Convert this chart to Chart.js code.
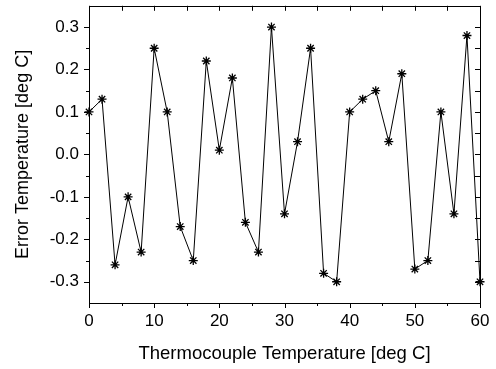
<!DOCTYPE html>
<html>
<head>
<meta charset="utf-8">
<script src="https://cdn.jsdelivr.net/npm/chart.js@4/dist/chart.umd.min.js"></script>
<style>
  html, body { margin: 0; padding: 0; background: #fff; }
  #wrap { width: 496px; height: 369px; }
</style>
</head>
<body>
<div id="wrap"><canvas id="chart" width="496" height="369"></canvas></div>
<script>
// data
const temps = [0, 2, 4, 6, 8, 10, 12, 14, 16, 18, 20, 22, 24, 26, 28, 30,
               32, 34, 36, 38, 40, 42, 44, 46, 48, 50, 52, 54, 56, 58, 60];
const errors = [0.10, 0.13, -0.26, -0.10, -0.23, 0.25, 0.10, -0.17, -0.25, 0.22, 0.01,
                0.18, -0.16, -0.23, 0.30, -0.14, 0.03, 0.25, -0.28, -0.30, 0.10,
                0.13, 0.15, 0.03, 0.19, -0.27, -0.25, 0.10, -0.14, 0.28, -0.30];
const xTicks = [0, 10, 20, 30, 40, 50, 60];
const yTicks = [-0.3, -0.2, -0.1, 0.0, 0.1, 0.2, 0.3];

const FONT = 'Liberation Sans, Arial, sans-serif';

// frame and tick marks, drawn by hand
const framePlugin = {
    id: 'frame',
    afterDraw(chart) {
        const ctx = chart.ctx;
        const a = chart.chartArea;
        const xs = chart.scales.x, ys = chart.scales.y;
        ctx.save();
        ctx.strokeStyle = '#000';
        ctx.lineWidth = 1;
        ctx.strokeRect(Math.round(a.left) + 0.5, Math.round(a.top) + 0.5,
            Math.round(a.right - a.left), Math.round(a.bottom - a.top));
        ctx.beginPath();
        for (let v = 0; v <= 60; v += 5) {
            const x = Math.round(xs.getPixelForValue(v)) + 0.5;
            const major = v % 10 === 0;
            // bottom: outward
            ctx.moveTo(x, a.bottom);
            ctx.lineTo(x, a.bottom + (major ? 5 : 3));
            // top: inward
            ctx.moveTo(x, a.top);
            ctx.lineTo(x, a.top + 5);
        }
        for (let i = -6; i <= 6; i++) {
            const y = Math.round(ys.getPixelForValue(i * 0.05)) + 0.5;
            const major = i % 2 === 0;
            // left: outward
            ctx.moveTo(a.left, y);
            ctx.lineTo(a.left - (major ? 5 : 3), y);
            // right: inward
            ctx.moveTo(a.right, y);
            ctx.lineTo(a.right - 5, y);
        }
        ctx.stroke();
        ctx.restore();
    }
};

new Chart(document.getElementById('chart').getContext('2d'), {
    type: 'line',
    data: {
        labels: temps,
        datasets: [{
            data: temps.map((t, i) => ({ x: t, y: errors[i] })),
            borderColor: '#000',
            borderWidth: 1,
            pointStyle: 'star',
            pointRadius: 4.5,
            pointBorderColor: '#000',
            pointBorderWidth: 1.3,
            pointBackgroundColor: '#000',
            tension: 0,
            clip: false
        }]
    },
    options: {
        responsive: false,
        animation: false,
        layout: { padding: { top: 5, right: 16, left: 0, bottom: 0 } },
        plugins: {
            legend: { display: false },
            tooltip: { enabled: false }
        },
        scales: {
            x: {
                type: 'linear',
                min: 0,
                max: 60,
                afterBuildTicks: s => { s.ticks = xTicks.map(v => ({ value: v })); },
                afterFit: s => { s.height = 66; s.paddingLeft = 0; s.paddingRight = 0; },
                grid: { display: false, drawTicks: false },
                border: { display: false },
                ticks: {
                    color: '#000',
                    padding: 8,
                    font: { family: FONT, size: 17 },
                    maxRotation: 0
                },
                title: {
                    display: true,
                    text: 'Thermocouple Temperature [deg C]',
                    color: '#000',
                    font: { family: FONT, size: 18.5 },
                    padding: { top: 4, bottom: 4 }
                }
            },
            y: {
                type: 'linear',
                min: -0.35,
                max: 0.35,
                afterBuildTicks: s => { s.ticks = yTicks.map(v => ({ value: v })); },
                afterFit: s => { s.width = 89; s.paddingTop = 0; s.paddingBottom = 0; },
                grid: { display: false, drawTicks: false },
                border: { display: false },
                ticks: {
                    color: '#000',
                    padding: 10,
                    font: { family: FONT, size: 17 },
                    callback: v => v.toFixed(1)
                },
                title: {
                    display: true,
                    text: 'Error Temperature [deg C]',
                    color: '#000',
                    font: { family: FONT, size: 18 },
                    padding: { top: 12, bottom: 4 }
                }
            }
        }
    },
    plugins: [framePlugin]
});
</script>
</body>
</html>
